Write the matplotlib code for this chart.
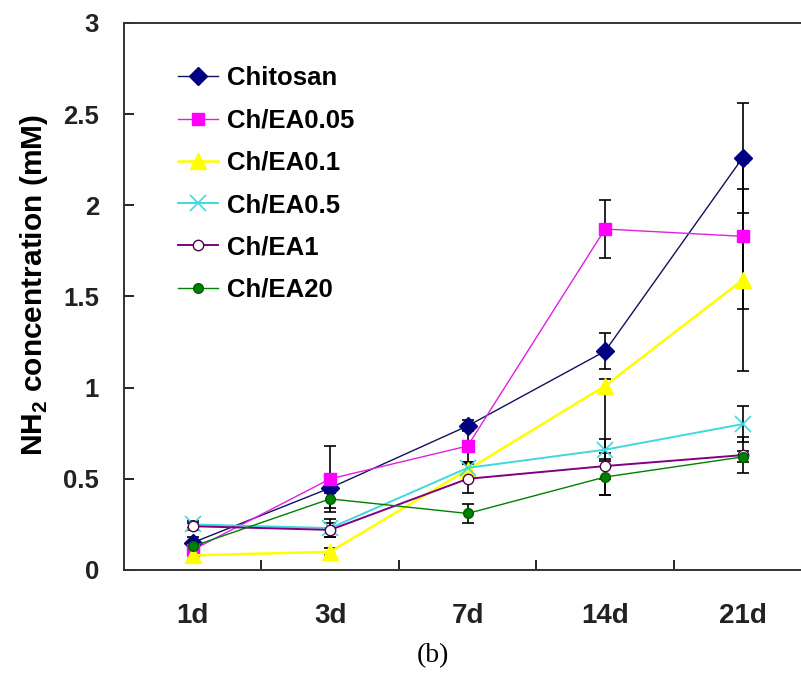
import numpy as np
import matplotlib.pyplot as plt

days = ['1d', '3d', '7d', '14d', '21d']
series_names = ['Chitosan', 'Ch/EA0.05', 'Ch/EA0.1', 'Ch/EA0.5', 'Ch/EA1', 'Ch/EA20']

chitosan = [0.15, 0.45, 0.79, 1.20, 2.26]
ea005 = [0.11, 0.50, 0.68, 1.87, 1.83]
ea01 = [0.08, 0.10, 0.55, 1.01, 1.59]
ea05 = [0.25, 0.23, 0.56, 0.66, 0.80]
ea1 = [0.24, 0.22, 0.50, 0.57, 0.63]
ea20 = [0.13, 0.39, 0.31, 0.51, 0.62]

# error bars (lower, upper)
chitosan_err = [[0.03, 0.03, 0.03, 0.10, 0.30], [0.03, 0.03, 0.03, 0.10, 0.30]]
ea005_err = [[0.02, 0.18, 0.09, 0.16, 0.40], [0.02, 0.18, 0.09, 0.16, 0.40]]
ea01_err = [[0.02, 0.02, 0.03, 0.60, 0.50], [0.02, 0.02, 0.03, 0.04, 0.50]]
ea05_err = [[0.02, 0.05, 0.03, 0.06, 0.10], [0.02, 0.05, 0.03, 0.06, 0.10]]
ea1_err = [[0.02, 0.04, 0.08, 0.07, 0.10], [0.02, 0.04, 0.08, 0.07, 0.10]]
ea20_err = [[0.02, 0.05, 0.05, 0.10, 0.03], [0.02, 0.05, 0.05, 0.10, 0.03]]


def main():
    plt.rcParams['font.family'] = ['Liberation Sans', 'DejaVu Sans']
    fig = plt.figure(figsize=(8.01, 6.86), dpi=100)
    ax = fig.add_axes([0.1548, 0.1691, 0.858, 0.7974])

    x = np.arange(len(days))
    styles = [
        (chitosan, chitosan_err, dict(color='#101060', marker='D', ms=9, mfc='#000080', mec='#000080', lw=1.0)),
        (ea005, ea005_err, dict(color='#E020E0', marker='s', ms=8.5, mfc='#FF00FF', mec='#FF00FF', lw=1.0)),
        (ea01, ea01_err, dict(color='#FFFF00', marker='^', ms=11, mfc='#FFFF00', mec='#FFFF00', lw=1.8)),
        (ea05, ea05_err, dict(color='#40D8E0', marker='x', ms=11, mew=1.2, lw=1.4)),
        (ea1, ea1_err, dict(color='#800080', marker='o', ms=7.5, mfc='white', mec='#500050', lw=1.4)),
        (ea20, ea20_err, dict(color='#008000', marker='o', ms=7, mfc='#008000', mec='#006000', lw=1.0)),
    ]

    handles = []
    for name, (vals, err, st) in zip(series_names, styles):
        ax.errorbar(x, vals, yerr=err, fmt='none', ecolor='black', elinewidth=1.2,
                    capsize=4, capthick=1.2, zorder=2)
        h, = ax.plot(x, vals, label=name, zorder=3, **st)
        handles.append(h)

    ax.set_xlim(-0.5, 4.5)
    ax.set_ylim(0, 3)
    ax.set_yticks([0, 0.5, 1, 1.5, 2, 2.5, 3])
    ax.set_yticklabels(['0', '0.5', '1', '1.5', '2', '2.5', '3'])
    ax.set_xticks(x)
    ax.set_xticklabels(days)
    ax.set_xticks(np.arange(0.5, 4.5, 1), minor=True)
    ax.tick_params(axis='x', which='major', length=0, pad=24)
    ax.tick_params(axis='x', which='minor', direction='in', length=7, width=1.2)
    ax.tick_params(axis='y', direction='in', length=7, width=1.2, pad=18)
    for lab in ax.get_xticklabels():
        lab.set_fontsize(20)
        lab.set_fontweight('bold')
        lab.set_color('#222222')
    for lab in ax.get_yticklabels():
        lab.set_fontsize(18.5)
        lab.set_fontweight('bold')
        lab.set_color('#222222')

    for s in ['left', 'bottom', 'top', 'right']:
        ax.spines[s].set_linewidth(1.4)
        ax.spines[s].set_color('#333333')

    ax.set_ylabel('NH$_\\mathregular{2}$ concentration (mM)', fontsize=21.5,
                  fontweight='bold')
    ax.yaxis.set_label_coords(-0.107, 0.52)

    ax.legend(handles=handles, loc='upper left', bbox_to_anchor=(0.045, 0.963),
              frameon=False, prop={'size': 18.5, 'weight': 'bold'},
              handlelength=1.56, labelspacing=0.71, handletextpad=0.35)

    fig.text(0.54, 0.045, '(b)', fontsize=20, ha='center', va='center',
             family='Liberation Serif')

    fig.savefig('out.png', dpi=100)


if __name__ == "__main__":
    main()
